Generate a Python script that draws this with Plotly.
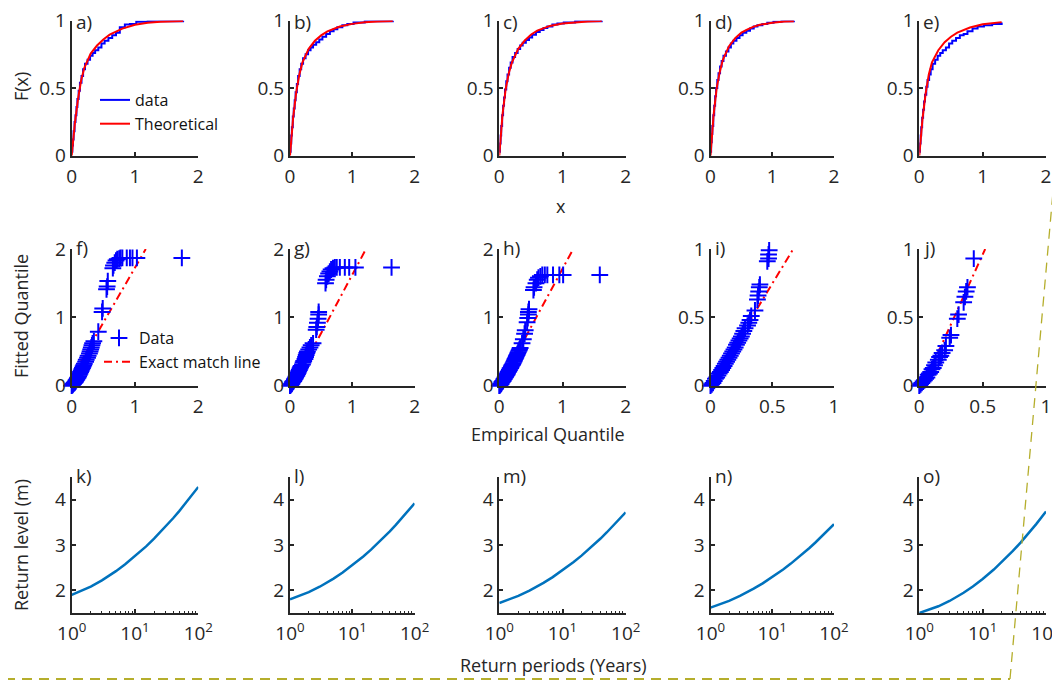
import plotly.graph_objects as go

OFF = 8  # the page body adds an 8px margin; compensate so pixel positions match
W, H = 1060 - OFF, 681 - OFF

# ---------------- Row 1: CDF (data vs theoretical) ----------------
a_theo_x = [0, 0.02, 0.05, 0.1, 0.15, 0.2, 0.3, 0.4, 0.5, 0.6, 0.7, 0.8, 1.0, 1.2, 1.4, 1.6, 1.76]
a_theo_F = [0, 0.10, 0.24, 0.42, 0.56, 0.65, 0.755, 0.815, 0.86, 0.895, 0.92, 0.94, 0.968, 0.983, 0.991, 0.995, 0.997]
b_theo_x = [0, 0.02, 0.05, 0.1, 0.15, 0.2, 0.3, 0.4, 0.5, 0.6, 0.7, 0.8, 1.0, 1.2, 1.4, 1.6, 1.65]
b_theo_F = [0, 0.12, 0.28, 0.47, 0.60, 0.69, 0.79, 0.85, 0.89, 0.92, 0.94, 0.955, 0.975, 0.987, 0.993, 0.996, 0.997]
c_theo_x = [0, 0.02, 0.05, 0.1, 0.15, 0.2, 0.3, 0.4, 0.5, 0.6, 0.7, 0.8, 1.0, 1.2, 1.4, 1.6, 1.62]
c_theo_F = [0, 0.12, 0.30, 0.49, 0.61, 0.69, 0.79, 0.85, 0.895, 0.925, 0.945, 0.96, 0.978, 0.988, 0.993, 0.996, 0.997]
d_theo_x = [0, 0.02, 0.05, 0.1, 0.15, 0.2, 0.3, 0.4, 0.5, 0.6, 0.7, 0.8, 1.0, 1.2, 1.35]
d_theo_F = [0, 0.13, 0.30, 0.50, 0.62, 0.71, 0.81, 0.87, 0.91, 0.935, 0.955, 0.968, 0.984, 0.992, 0.995]
e_theo_x = [0, 0.02, 0.05, 0.1, 0.15, 0.2, 0.3, 0.4, 0.5, 0.6, 0.7, 0.8, 1.0, 1.15, 1.3]
e_theo_F = [0, 0.11, 0.27, 0.46, 0.60, 0.69, 0.78, 0.84, 0.88, 0.91, 0.93, 0.948, 0.972, 0.982, 0.988]

a_emp_x = [0, 0.01, 0.02, 0.03, 0.045, 0.06, 0.075, 0.09, 0.11, 0.13, 0.155, 0.18, 0.21, 0.25, 0.29,
           0.33, 0.37, 0.42, 0.47, 0.52, 0.58, 0.64, 0.70, 0.76, 0.84, 0.92, 1.02, 1.2, 1.76]
a_emp_F = [0.03, 0.075, 0.12, 0.18, 0.25, 0.30, 0.36, 0.42, 0.48, 0.54, 0.59, 0.64, 0.68, 0.71, 0.74,
           0.76, 0.78, 0.80, 0.83, 0.85, 0.87, 0.89, 0.91, 0.95, 0.97, 0.975, 0.99, 0.995, 1.0]
b_emp_x = [0, 0.01, 0.02, 0.03, 0.045, 0.06, 0.075, 0.09, 0.11, 0.13, 0.155, 0.18, 0.21, 0.25, 0.29,
           0.33, 0.37, 0.42, 0.47, 0.52, 0.58, 0.64, 0.70, 0.76, 0.84, 0.92, 1.02, 1.2, 1.65]
b_emp_F = [0.03, 0.09, 0.15, 0.21, 0.29, 0.35, 0.41, 0.47, 0.53, 0.59, 0.64, 0.68, 0.72, 0.75, 0.78,
           0.80, 0.82, 0.84, 0.86, 0.88, 0.90, 0.92, 0.935, 0.95, 0.965, 0.975, 0.985, 0.995, 1.0]
c_emp_x = [0, 0.01, 0.02, 0.03, 0.045, 0.06, 0.075, 0.09, 0.11, 0.13, 0.155, 0.18, 0.21, 0.25, 0.29,
           0.33, 0.37, 0.42, 0.47, 0.52, 0.58, 0.64, 0.70, 0.76, 0.84, 0.92, 1.02, 1.2, 1.62]
c_emp_F = [0.03, 0.09, 0.15, 0.22, 0.30, 0.37, 0.43, 0.49, 0.55, 0.60, 0.65, 0.69, 0.73, 0.76, 0.79,
           0.815, 0.835, 0.855, 0.875, 0.895, 0.915, 0.93, 0.945, 0.955, 0.97, 0.978, 0.985, 0.995, 1.0]
d_emp_x = [0, 0.01, 0.02, 0.03, 0.045, 0.06, 0.075, 0.09, 0.11, 0.13, 0.155, 0.18, 0.21, 0.25, 0.29,
           0.33, 0.37, 0.42, 0.47, 0.52, 0.58, 0.64, 0.70, 0.76, 0.84, 0.92, 1.02, 1.15, 1.35]
d_emp_F = [0.03, 0.10, 0.16, 0.22, 0.30, 0.37, 0.44, 0.50, 0.56, 0.61, 0.66, 0.70, 0.74, 0.77, 0.80,
           0.83, 0.85, 0.87, 0.89, 0.91, 0.925, 0.94, 0.955, 0.965, 0.975, 0.983, 0.99, 0.995, 1.0]
e_emp_x = [0, 0.01, 0.02, 0.03, 0.045, 0.06, 0.075, 0.09, 0.11, 0.13, 0.155, 0.18, 0.21, 0.25, 0.29,
           0.33, 0.37, 0.42, 0.47, 0.52, 0.58, 0.64, 0.70, 0.76, 0.84, 0.92, 1.02, 1.15, 1.3]
e_emp_F = [0.03, 0.09, 0.15, 0.21, 0.28, 0.34, 0.40, 0.45, 0.51, 0.56, 0.60, 0.64, 0.68, 0.71, 0.74,
           0.76, 0.78, 0.80, 0.83, 0.85, 0.87, 0.89, 0.90, 0.92, 0.94, 0.955, 0.965, 0.975, 0.985]

# ---------------- Row 2: QQ plots ----------------
f_emp = [0.00, 0.01, 0.02, 0.03, 0.04, 0.05, 0.06, 0.07, 0.08, 0.09, 0.10, 0.11, 0.12, 0.13, 0.14, 0.15, 0.16, 0.17,
         0.18, 0.19, 0.20, 0.22, 0.23, 0.25, 0.26, 0.28, 0.29, 0.30, 0.31, 0.32, 0.33, 0.35, 0.42, 0.48, 0.49, 0.55,
         0.56, 0.57, 0.65, 0.66, 0.68, 0.70, 0.72, 0.75, 0.77, 0.80, 0.87, 0.92, 0.96, 1.03, 1.74]
f_fit = [0.00, 0.01, 0.02, 0.03, 0.04, 0.05, 0.06, 0.08, 0.09, 0.11, 0.12, 0.14, 0.16, 0.18, 0.20, 0.22, 0.24, 0.26,
         0.28, 0.30, 0.32, 0.35, 0.38, 0.41, 0.44, 0.47, 0.50, 0.53, 0.56, 0.59, 0.62, 0.65, 0.79, 1.08, 1.13, 1.41,
         1.45, 1.53, 1.72, 1.76, 1.80, 1.83, 1.85, 1.86, 1.87, 1.87, 1.87, 1.87, 1.87, 1.87, 1.87]
g_emp = [0.00, 0.01, 0.02, 0.03, 0.04, 0.05, 0.06, 0.07, 0.08, 0.09, 0.10, 0.11, 0.12, 0.13, 0.14, 0.15, 0.16, 0.17,
         0.18, 0.20, 0.21, 0.22, 0.24, 0.25, 0.26, 0.27, 0.28, 0.30, 0.32, 0.34, 0.37, 0.42, 0.43, 0.44, 0.45, 0.46,
         0.46, 0.57, 0.58, 0.60, 0.62, 0.64, 0.66, 0.69, 0.72, 0.75, 0.80, 0.88, 0.95, 1.05, 1.63]
g_fit = [0.00, 0.01, 0.02, 0.03, 0.05, 0.06, 0.07, 0.09, 0.10, 0.12, 0.14, 0.15, 0.17, 0.19, 0.21, 0.23, 0.25, 0.27,
         0.29, 0.31, 0.34, 0.36, 0.39, 0.42, 0.45, 0.48, 0.50, 0.53, 0.56, 0.59, 0.62, 0.82, 0.86, 0.92, 0.98, 1.04,
         1.08, 1.50, 1.55, 1.60, 1.64, 1.67, 1.70, 1.72, 1.73, 1.73, 1.73, 1.73, 1.73, 1.73, 1.73]
h_emp = [0.00, 0.01, 0.02, 0.03, 0.04, 0.05, 0.06, 0.07, 0.08, 0.09, 0.10, 0.11, 0.12, 0.13, 0.14, 0.15, 0.16, 0.17,
         0.18, 0.19, 0.20, 0.21, 0.22, 0.23, 0.24, 0.25, 0.26, 0.27, 0.28, 0.29, 0.30, 0.31, 0.32, 0.33, 0.36, 0.38,
         0.40, 0.41, 0.44, 0.45, 0.46, 0.46, 0.47, 0.54, 0.55, 0.58, 0.60, 0.62, 0.65, 0.68, 0.72, 0.76, 0.85, 0.95,
         1.01, 1.59]
h_fit = [0.00, 0.01, 0.02, 0.03, 0.05, 0.06, 0.07, 0.09, 0.10, 0.12, 0.13, 0.15, 0.16, 0.18, 0.20, 0.21, 0.23, 0.25,
         0.26, 0.28, 0.30, 0.31, 0.33, 0.35, 0.37, 0.39, 0.41, 0.43, 0.45, 0.47, 0.49, 0.51, 0.53, 0.55, 0.62, 0.68,
         0.76, 0.81, 0.93, 0.99, 1.04, 1.08, 1.12, 1.40, 1.44, 1.50, 1.55, 1.58, 1.60, 1.62, 1.62, 1.62, 1.62, 1.62,
         1.62, 1.62]
i_emp = [0.00, 0.01, 0.02, 0.03, 0.04, 0.05, 0.06, 0.07, 0.08, 0.09, 0.10, 0.11, 0.12, 0.13, 0.14, 0.15, 0.16, 0.17,
         0.18, 0.19, 0.20, 0.21, 0.22, 0.23, 0.24, 0.25, 0.26, 0.27, 0.28, 0.30, 0.31, 0.32, 0.33, 0.36, 0.38, 0.385,
         0.39, 0.395, 0.40, 0.46, 0.47, 0.47, 0.475]
i_fit = [0.00, 0.01, 0.02, 0.035, 0.05, 0.06, 0.075, 0.09, 0.10, 0.115, 0.13, 0.145, 0.16, 0.175, 0.19, 0.205, 0.22,
         0.235, 0.25, 0.265, 0.28, 0.30, 0.315, 0.33, 0.345, 0.36, 0.38, 0.40, 0.42, 0.44, 0.46, 0.48, 0.51, 0.55,
         0.63, 0.66, 0.69, 0.72, 0.74, 0.91, 0.93, 0.96, 0.99]
j_emp = [0.00, 0.01, 0.02, 0.03, 0.04, 0.05, 0.06, 0.07, 0.08, 0.09, 0.10, 0.11, 0.12, 0.13, 0.15, 0.16, 0.17, 0.18,
         0.20, 0.21, 0.24, 0.25, 0.30, 0.31, 0.35, 0.36, 0.37, 0.38, 0.43]
j_fit = [0.00, 0.01, 0.02, 0.03, 0.04, 0.05, 0.06, 0.08, 0.09, 0.10, 0.12, 0.13, 0.15, 0.17, 0.19, 0.21, 0.22, 0.24,
         0.26, 0.29, 0.35, 0.37, 0.49, 0.52, 0.61, 0.65, 0.69, 0.72, 0.93]

f_line_x, f_line_y = [0.0, 1.17], [0.12, 2.0]
g_line_x, g_line_y = [0.05, 1.22], [0.0, 2.0]
h_line_x, h_line_y = [0.0, 1.17], [0.0, 2.0]
i_line_x, i_line_y = [0.0, 0.67], [0.0, 1.0]
j_line_x, j_line_y = [0.03, 0.52], [0.0, 1.0]

# ---------------- Row 3: return levels ----------------
return_period = [1, 1.5, 2, 3, 4, 5, 7, 10, 15, 20, 30, 40, 50, 70, 100]
k_level = [1.900, 2.000, 2.084, 2.221, 2.330, 2.423, 2.574, 2.750, 2.970, 3.139, 3.395, 3.590, 3.748, 3.998, 4.280]
l_level = [1.800, 1.887, 1.961, 2.080, 2.177, 2.259, 2.393, 2.550, 2.746, 2.897, 3.126, 3.300, 3.443, 3.667, 3.920]
m_level = [1.720, 1.806, 1.878, 1.994, 2.086, 2.164, 2.292, 2.440, 2.625, 2.766, 2.981, 3.143, 3.276, 3.485, 3.720]
n_level = [1.620, 1.702, 1.769, 1.877, 1.963, 2.036, 2.153, 2.290, 2.460, 2.590, 2.786, 2.934, 3.055, 3.246, 3.460]
o_level = [1.500, 1.578, 1.648, 1.765, 1.863, 1.946, 2.085, 2.250, 2.459, 2.621, 2.869, 3.058, 3.214, 3.461, 3.740]

panel_labels = ["a)", "b)", "c)", "d)", "e)", "f)", "g)", "h)", "i)", "j)", "k)", "l)", "m)", "n)", "o)"]

# ---------------- layout geometry (page pixels) ----------------
col_px = [(71.7, 198.3), (290.0, 414.6), (499.3, 625.7), (710.5, 834.0), (919.3, 1046.0)]
row_px = [(20.5, 155.7), (249.0, 385.7), (477.0, 613.0)]


def px_x(p):
    return (p - OFF) / W


def px_y(p):
    return 1 - (p - OFF) / H


INK = "#262626"
FONT = "Open Sans"
TICKFONT = dict(family=FONT, size=19, color=INK)

fig = go.Figure()


def ax_id(r, c):
    return r * 5 + c + 1


cdf_sets = [(a_emp_x, a_emp_F, a_theo_x, a_theo_F), (b_emp_x, b_emp_F, b_theo_x, b_theo_F),
            (c_emp_x, c_emp_F, c_theo_x, c_theo_F), (d_emp_x, d_emp_F, d_theo_x, d_theo_F),
            (e_emp_x, e_emp_F, e_theo_x, e_theo_F)]
qq_sets = [(f_emp, f_fit, f_line_x, f_line_y), (g_emp, g_fit, g_line_x, g_line_y),
           (h_emp, h_fit, h_line_x, h_line_y), (i_emp, i_fit, i_line_x, i_line_y),
           (j_emp, j_fit, j_line_x, j_line_y)]
rl_sets = [k_level, l_level, m_level, n_level, o_level]

DASHDOT = "8px,4px,2px,4px"

for c in range(5):
    # row 1
    i = ax_id(0, c)
    ex, eF, tx, tF = cdf_sets[c]
    xa, ya = ("x" if i == 1 else f"x{i}"), ("y" if i == 1 else f"y{i}")
    fig.add_trace(go.Scatter(x=ex, y=eF, mode="lines", line=dict(color="#0000ff", width=2, shape="hv"),
                             name="data", showlegend=(c == 0), legend="legend", xaxis=xa, yaxis=ya,
                             cliponaxis=False))
    fig.add_trace(go.Scatter(x=tx, y=tF, mode="lines", line=dict(color="#ff0000", width=2),
                             name="Theoretical", showlegend=(c == 0), legend="legend", xaxis=xa, yaxis=ya,
                             cliponaxis=False))
    # row 2
    i = ax_id(1, c)
    qe, qf, lx, ly = qq_sets[c]
    xa, ya = f"x{i}", f"y{i}"
    fig.add_trace(go.Scatter(x=lx, y=ly, mode="lines", line=dict(color="#ff0000", width=2, dash=DASHDOT),
                             name="Exact match line", showlegend=False, legend="legend2", xaxis=xa, yaxis=ya))
    fig.add_trace(go.Scatter(x=qe, y=qf, mode="markers",
                             marker=dict(symbol="cross-thin", size=12, line=dict(color="#0000ff", width=2)),
                             name="Data", showlegend=(c == 0), legend="legend2", xaxis=xa, yaxis=ya,
                             cliponaxis=False))
    if c == 0:
        # legend entry for the exact-match line (the line itself is drawn under the markers)
        fig.add_trace(go.Scatter(x=[None], y=[None], mode="lines",
                                 line=dict(color="#ff0000", width=2, dash=DASHDOT),
                                 name="Exact match line", showlegend=True, legend="legend2", xaxis=xa, yaxis=ya))
    # row 3
    i = ax_id(2, c)
    xa, ya = f"x{i}", f"y{i}"
    fig.add_trace(go.Scatter(x=return_period, y=rl_sets[c], mode="lines", line=dict(color="#0072BD", width=2.5),
                             showlegend=False, xaxis=xa, yaxis=ya))

common = dict(showline=True, linecolor=INK, linewidth=2, ticks="inside", ticklen=4, tickwidth=1.5,
              tickcolor=INK, showgrid=False, zeroline=False, tickfont=TICKFONT, mirror=False,
              automargin=False, ticklabeloverflow="allow")

layout = {}
for r in range(3):
    for c in range(5):
        i = ax_id(r, c)
        x0, x1 = col_px[c]
        t, b = row_px[r]
        xdom = [px_x(x0), px_x(x1)]
        ydom = [px_y(b), px_y(t)]
        xk = "xaxis" if i == 1 else f"xaxis{i}"
        yk = "yaxis" if i == 1 else f"yaxis{i}"
        xanchor = "y" if i == 1 else f"y{i}"
        yanchor = "x" if i == 1 else f"x{i}"
        if r == 0:
            xa = dict(range=[0, 2], tickvals=[0, 1, 2], ticktext=["0", "1", "2"])
            ya = dict(range=[0, 1], tickvals=[0, 0.5, 1], ticktext=["0", "0.5", "1"])
        elif r == 1:
            if c < 3:
                xa = dict(range=[0, 2], tickvals=[0, 1, 2], ticktext=["0", "1", "2"])
                ya = dict(range=[0, 2], tickvals=[0, 1, 2], ticktext=["0", "1", "2"])
            else:
                xa = dict(range=[0, 1], tickvals=[0, 0.5, 1], ticktext=["0", "0.5", "1"])
                ya = dict(range=[0, 1], tickvals=[0, 0.5, 1], ticktext=["0", "0.5", "1"])
        else:
            xa = dict(type="log", range=[0, 2], tickvals=[1, 10, 100],
                      ticktext=["10<sup>0</sup>", "10<sup>1</sup>", "10<sup>2</sup>"],
                      minor=dict(ticks="inside", ticklen=2.5, tickwidth=1.2, tickcolor=INK,
                                 tickvals=[2, 3, 4, 5, 6, 7, 8, 9, 20, 30, 40, 50, 60, 70, 80, 90]))
            ya = dict(range=[1.5, 4.5], tickvals=[2, 3, 4], ticktext=["2", "3", "4"])
        layout[xk] = dict(common, domain=xdom, anchor=xanchor, ticklabelstandoff=2, **xa)
        layout[yk] = dict(common, domain=ydom, anchor=yanchor, ticklabelstandoff=0, **ya)

fig.update_layout(**layout)

annotations = []
for r in range(3):
    for c in range(5):
        x0, x1 = col_px[c]
        t, b = row_px[r]
        if r == 0:
            ay, yanc = px_y(OFF), "top"
        else:
            ay, yanc = px_y(t - 1), "middle"
        annotations.append(dict(text=panel_labels[r * 5 + c], x=px_x(x0 + 3), y=ay,
                                xref="paper", yref="paper", xanchor="left", yanchor=yanc,
                                showarrow=False, borderpad=0,
                                font=dict(family=FONT, size=19, color=INK)))

titles = [
    ("F(x)", 21, 87, -90),
    ("x", 561, 206, 0),
    ("Fitted Quantile", 21, 316, -90),
    ("Empirical Quantile", 548, 434, 0),
    ("Return level (m)", 21, 545, -90),
    ("Return periods (Years)", 553, 665, 0),
]
for txt, px, py, ang in titles:
    annotations.append(dict(text=txt, x=px_x(px), y=px_y(py), xref="paper", yref="paper",
                            xanchor="center", yanchor="middle", textangle=ang, showarrow=False,
                            borderpad=0, font=dict(family=FONT, size=18, color=INK)))

# decorative dashed frame at bottom/right
OLIVE = "#b5ae2c"
shapes = [
    dict(type="line", xref="paper", yref="paper", x0=px_x(5), y0=px_y(679), x1=px_x(1010), y1=px_y(679),
         line=dict(color=OLIVE, width=2, dash="10px,7px")),
    dict(type="line", xref="paper", yref="paper", x0=px_x(1010), y0=px_y(679), x1=px_x(1062), y1=px_y(90),
         line=dict(color=OLIVE, width=1.3, dash="10px,7px")),
]

fig.update_layout(
    width=W, height=H, margin=dict(l=0, r=0, t=0, b=0, pad=0, autoexpand=False),
    paper_bgcolor="white", plot_bgcolor="rgba(0,0,0,0)",
    font=dict(family=FONT, color=INK),
    annotations=annotations, shapes=shapes,
    legend=dict(x=px_x(95), y=px_y(83), xanchor="left", yanchor="top", bgcolor="rgba(0,0,0,0)",
                font=dict(family=FONT, size=16, color="#111111"), tracegroupgap=0, itemwidth=30),
    legend2=dict(x=px_x(99), y=px_y(321), xanchor="left", yanchor="top", bgcolor="rgba(0,0,0,0)",
                 font=dict(family=FONT, size=16, color="#111111"), tracegroupgap=0, itemwidth=30),
)

fig.write_html("out.html")
